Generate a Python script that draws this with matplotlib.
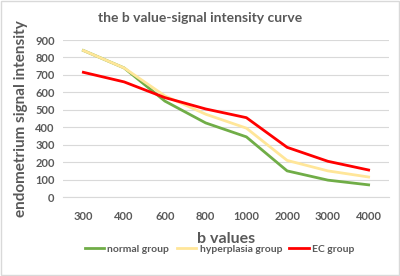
import matplotlib
matplotlib.use("Agg")
from matplotlib import pyplot as plt
from matplotlib.patches import Rectangle

b_values = ["300", "400", "600", "800", "1000", "2000", "3000", "4000"]
normal = [840, 740, 550, 425, 345, 150, 97, 70]
hyperplasia = [840, 740, 580, 475, 395, 210, 150, 115]
ec = [715, 660, 570, 505, 455, 285, 205, 155]

plt.rcParams['font.family'] = ['Lato', 'DejaVu Sans']
grey = "#595959"

fig = plt.figure(figsize=(4, 2.76), dpi=100)
ax = fig.add_axes([0.1575, 0.286, 0.815, 0.569])

x = range(len(b_values))
ax.plot(x, normal, color="#70ad47", lw=2, label="normal group")
ax.plot(x, hyperplasia, color="#ffe699", lw=2, label="hyperplasia group")
ax.plot(x, ec, color="#ff0000", lw=2, label="EC group")

ax.set_xlim(-0.5, len(b_values) - 0.5)
ax.set_ylim(0, 900)
ax.set_yticks(range(0, 901, 100))
ax.set_xticks(list(x))
ax.set_xticklabels(b_values)
ax.grid(axis="y", color="#d9d9d9", lw=0.8)
ax.set_axisbelow(True)
for s in ["top", "right", "left"]:
    ax.spines[s].set_visible(False)
ax.spines["bottom"].set_color("#d9d9d9")
ax.tick_params(length=0, labelsize=8, colors=grey, pad=10)
ax.tick_params(axis="y", pad=6)
for lab in ax.get_xticklabels() + ax.get_yticklabels():
    lab.set_fontweight("bold")

ax.set_xlabel("b values", fontsize=11.5, fontweight="bold", color=grey, labelpad=7)
ax.set_ylabel("endometrium signal intensity", fontsize=11, fontweight="bold", color=grey, labelpad=5)
fig.text(0.5, 0.935, "the b value-signal intensity curve", ha="center", va="center",
         fontsize=10, fontweight="bold", color=grey)

leg = fig.legend(loc="center", bbox_to_anchor=(0.549, 0.098), ncol=3, frameon=False,
                 fontsize=7.5, handlelength=1.9, columnspacing=0.7, handletextpad=0.3)
for t in leg.get_texts():
    t.set_color(grey)
    t.set_fontweight("bold")

fig.patches.append(Rectangle((0.003, 0.004), 0.994, 0.992, transform=fig.transFigure,
                             fill=False, edgecolor="#d9d9d9", lw=1))

fig.savefig("out.png", dpi=100)
